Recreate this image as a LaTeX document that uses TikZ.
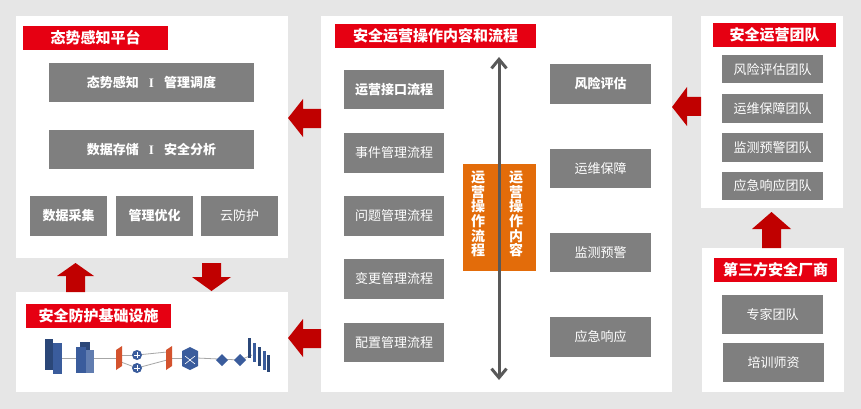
\documentclass[tikz,border=0pt]{standalone}
\usepackage{fontspec}
\setmainfont{Noto Sans CJK SC}
\newfontfamily\sepfont{Liberation Serif}
\usetikzlibrary{arrows.meta}
\definecolor{bg}{HTML}{E6E6E6}
\definecolor{titlered}{HTML}{E60012}
\definecolor{arrowred}{HTML}{C00000}
\definecolor{boxgray}{HTML}{7F7F7F}
\definecolor{orangebox}{HTML}{E36C0A}
\definecolor{arrowgray}{HTML}{595959}
\definecolor{iconblue}{HTML}{3A5C9C}
\definecolor{icondark}{HTML}{2B4778}
\definecolor{fwred}{HTML}{D4532E}
\definecolor{linkgray}{HTML}{A6A6A6}
\tikzset{
  panel/.style={fill=white, draw=none, inner sep=0pt, anchor=north west},
  redtitle/.style={fill=titlered, text=white, font=\fontsize{15}{15}\selectfont\bfseries, inner sep=0pt, minimum height=24pt},
  gbox/.style={fill=boxgray, text=white, font=\fontsize{13}{13}\selectfont, inner sep=0pt},
  gboxb/.style={gbox, font=\fontsize{13}{13}\selectfont\bfseries},
  blockarrow/.style={fill=arrowred, draw=none},
  vtext/.style={text=white, font=\fontsize{14}{14.7}\selectfont\bfseries, align=center, inner sep=0pt},
  link/.style={draw=linkgray, line width=0.8pt},
}
\newcommand{\sepI}{\hspace{10pt}{\sepfont\bfseries I}\hspace{10pt}}
\begin{document}
\begin{tikzpicture}[x=1pt,y=-1pt]
\useasboundingbox (0,0) rectangle (861,409);
\fill[bg] (0,0) rectangle (861,409);

% panels
\node[panel, minimum width=272pt, minimum height=242pt] (P1) at (16,16) {};
\node[panel, minimum width=272pt, minimum height=100pt] (P2) at (16,292) {};
\node[panel, minimum width=351pt, minimum height=376pt] (P3) at (321,16) {};
\node[panel, minimum width=142pt, minimum height=192pt] (P4) at (701,16) {};
\node[panel, minimum width=142pt, minimum height=144pt] (P5) at (702,248) {};

% titles
\node[redtitle, minimum width=145pt] (T1) at (95.5,38) {态势感知平台};
\node[redtitle, minimum width=145pt] (T2) at (98.5,316) {安全防护基础设施};
\node[redtitle, minimum width=201pt] (T3) at (435.5,36) {安全运营操作内容和流程};
\node[redtitle, minimum width=123pt] (T4) at (774.5,35) {安全运营团队};
\node[redtitle, minimum width=123pt] (T5) at (775.5,270) {第三方安全厂商};

% left top panel boxes
\node[gboxb, minimum width=205pt, minimum height=39pt] (A1) at (151.5,82.5) {态势感知\sepI 管理调度};
\node[gboxb, minimum width=205pt, minimum height=39pt] (A2) at (151.5,149.5) {数据存储\sepI 安全分析};
\node[gboxb, minimum width=77pt, minimum height=40pt] (A3) at (68.5,216) {数据采集};
\node[gboxb, minimum width=77pt, minimum height=40pt] (A4) at (154.5,216) {管理优化};
\node[gbox, minimum width=77pt, minimum height=40pt] (A5) at (239.5,216) {云防护};

% middle panel left boxes
\node[gboxb, minimum width=100pt, minimum height=39pt] (M1) at (394,89.5) {运营接口流程};
\node[gbox, minimum width=100pt, minimum height=40pt] (M2) at (394,153) {事件管理流程};
\node[gbox, minimum width=100pt, minimum height=40pt] (M3) at (394,216) {问题管理流程};
\node[gbox, minimum width=100pt, minimum height=40pt] (M4) at (394,279) {变更管理流程};
\node[gbox, minimum width=100pt, minimum height=39pt] (M5) at (394,342.5) {配置管理流程};

% middle panel right boxes
\node[gboxb, minimum width=101pt, minimum height=40pt] (R1) at (600.5,84) {风险评估};
\node[gbox, minimum width=101pt, minimum height=39pt] (R2) at (600.5,168.5) {运维保障};
\node[gbox, minimum width=101pt, minimum height=39pt] (R3) at (600.5,252.5) {监测预警};
\node[gbox, minimum width=101pt, minimum height=40pt] (R4) at (600.5,337) {应急响应};

% orange centre box
\node[fill=orangebox, minimum width=73pt, minimum height=107pt, inner sep=0pt] (O) at (499.5,217.5) {};
\node[vtext] (O1) at (478,214) {运\\营\\操\\作\\流\\程};
\node[vtext] (O2) at (516,214) {运\\营\\操\\作\\内\\容};

% vertical double arrow
\coordinate (vtop) at (499,57);
\coordinate (vbot) at (499,380);
\draw[line width=3pt, arrowgray, {Straight Barb[length=9pt,width=15pt]}-{Straight Barb[length=9pt,width=15pt]}] (vtop) -- (vbot);

% right top boxes
\node[gbox, minimum width=101pt, minimum height=28pt] (S1) at (772.5,69.5) {风险评估团队};
\node[gbox, minimum width=101pt, minimum height=29pt] (S2) at (772.5,108.5) {运维保障团队};
\node[gbox, minimum width=101pt, minimum height=29pt] (S3) at (772.5,147.5) {监测预警团队};
\node[gbox, minimum width=101pt, minimum height=28pt] (S4) at (772.5,186) {应急响应团队};

% right bottom boxes
\node[gbox, minimum width=101pt, minimum height=39pt] (B1) at (772.5,314.5) {专家团队};
\node[gbox, minimum width=101pt, minimum height=39pt] (B2) at (773.5,362.5) {培训师资};

% block arrows
\fill[blockarrow] (288,118) -- (303,99) -- (303,109) -- (321,109) -- (321,128) -- (303,128) -- (303,137) -- cycle;
\fill[blockarrow] (288,338) -- (303,319) -- (303,329) -- (321,329) -- (321,348) -- (303,348) -- (303,357) -- cycle;
\fill[blockarrow] (672,107) -- (687,87) -- (687,97) -- (701,97) -- (701,116) -- (687,116) -- (687,126) -- cycle;
\fill[blockarrow] (75.5,263) -- (94,276) -- (85,276) -- (85,292) -- (66,292) -- (66,276) -- (57,276) -- cycle;
\fill[blockarrow] (211.5,291) -- (231,277) -- (221,277) -- (221,263) -- (202,263) -- (202,277) -- (192,277) -- cycle;
\fill[blockarrow] (771.5,212) -- (791,229) -- (781,229) -- (781,248) -- (762,248) -- (762,229) -- (752,229) -- cycle;

% network icons (infrastructure)
\draw[link] (60,358) -- (78,358);
\draw[link] (92,358) -- (116,358);
\draw[link] (121,355) -- (137,355);
\draw[link] (121,362) -- (137,368);
\draw[link] (137,355) -- (167,352);
\draw[link] (137,368) -- (167,360);
\draw[link] (172,358) -- (184,358);
\draw[link] (197,358) -- (240,360);
\draw[link] (240,360) -- (252,355);
% servers
\fill[icondark] (45,339) rectangle (53,370);
\fill[iconblue] (53,343) rectangle (62,374);
\fill[icondark] (80,342) rectangle (90,368);
\fill[iconblue] (76,347) rectangle (86,373);
\fill[iconblue!80] (86,350) rectangle (94,373);
% firewalls
\fill[fwred] (116,350) -- (122,346) -- (122,366) -- (116,370) -- cycle;
\fill[fwred] (166,350) -- (172,346) -- (172,366) -- (166,370) -- cycle;
% routers
\fill[iconblue] (137,355) circle (5);
\fill[iconblue] (137,368) circle (5);
\draw[white, line width=0.6pt] (134,355) -- (140,355) (137,352) -- (137,358);
\draw[white, line width=0.6pt] (134,368) -- (140,368) (137,365) -- (137,371);
% switch cube
\fill[iconblue] (182,351) -- (190,347) -- (198,351) -- (198,366) -- (190,370) -- (182,366) -- cycle;
\draw[white, line width=0.6pt] (185,356) -- (195,364) (195,356) -- (185,364);
% diamonds
\fill[iconblue] (222,354) -- (228,360) -- (222,366) -- (216,360) -- cycle;
\fill[iconblue] (240,354) -- (246,360) -- (240,366) -- (234,360) -- cycle;
% bars
\fill[icondark] (248,338) rectangle (251,358);
\fill[iconblue] (253,343) rectangle (256,362);
\fill[icondark] (258,347) rectangle (261,366);
\fill[iconblue] (263,351) rectangle (266,370);
\fill[icondark] (267,355) rectangle (270,372);
\end{tikzpicture}
\end{document}
